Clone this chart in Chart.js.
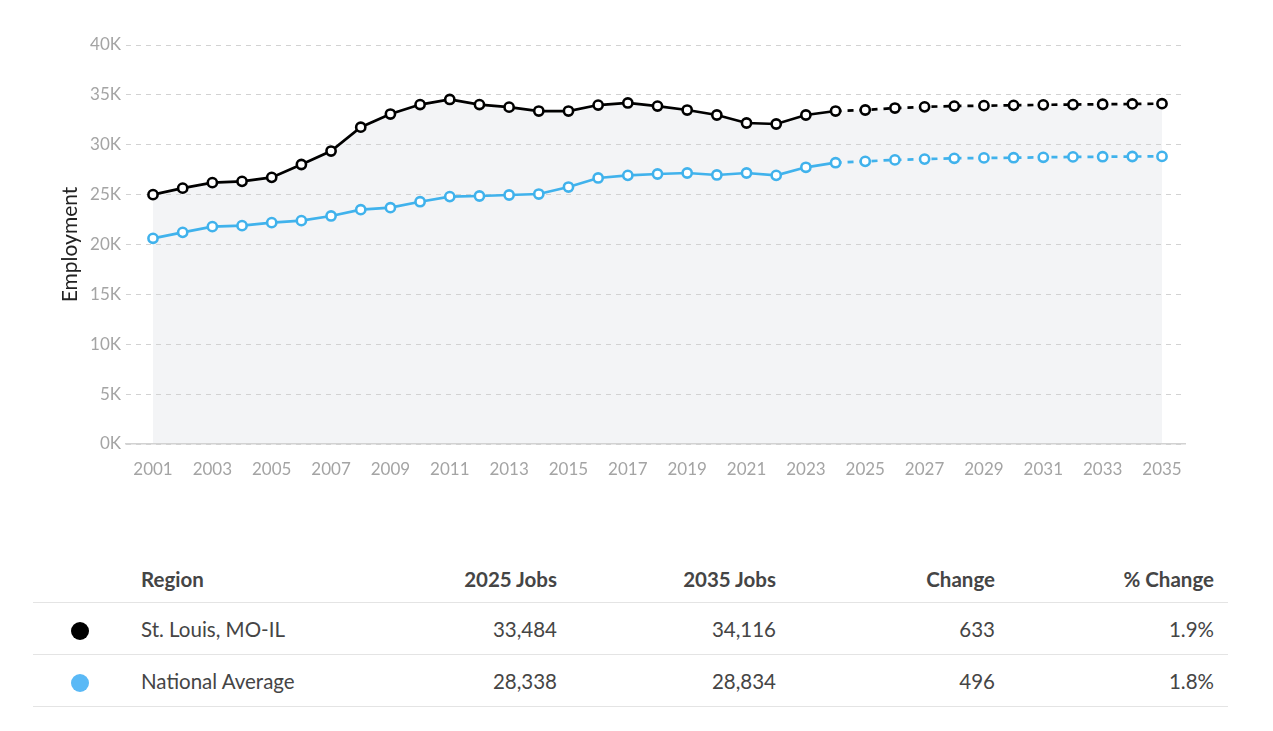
<!DOCTYPE html>
<html>
<head>
<meta charset="utf-8">
<script src="https://cdn.jsdelivr.net/npm/chart.js@4"></script>
<style>
  html, body { margin:0; padding:0; background:#fff; width:1273px; height:731px; overflow:hidden; font-family:Lato, "Open Sans", sans-serif; }
  #wrap { position:absolute; left:0; top:0; width:1273px; height:500px; }
  table { position:absolute; left:33px; top:555px; width:1195px; border-collapse:collapse; table-layout:fixed; font-family:Lato, sans-serif; font-size:20.5px; color:#454545; }
  th, td { padding:0; white-space:nowrap; }
  th { font-weight:700; font-size:20.5px; height:47px; border-bottom:1.5px solid #e4e4e4; vertical-align:middle; }
  td { height:51px; border-bottom:1.5px solid #e4e4e4; vertical-align:middle; }
  .num { text-align:right; padding-right:14px; }
  .reg { text-align:left; padding-left:20px; }
  .dotc { padding-left:38px; }
  .dot { display:inline-block; width:18px; height:18px; border-radius:50%; vertical-align:middle; }
</style>
</head>
<body>
<div id="wrap"><canvas id="c"></canvas></div>
<table id="tbl">
  <colgroup><col style="width:88px"><col style="width:231px"><col style="width:219px"><col style="width:219px"><col style="width:219px"><col style="width:219px"></colgroup>
  <thead><tr id="hdr"></tr></thead>
  <tbody id="body"></tbody>
</table>
<script>
// ---- data ----
const years = [2001,2002,2003,2004,2005,2006,2007,2008,2009,2010,2011,2012,2013,2014,2015,2016,2017,2018,2019,2020,2021,2022,2023,2024,2025,2026,2027,2028,2029,2030,2031,2032,2033,2034,2035];
const stLouis = [25000,25650,26200,26330,26730,28020,29370,31760,33080,34030,34540,34030,33770,33380,33380,33980,34190,33880,33480,32980,32180,32080,32980,33380,33484,33680,33800,33880,33920,33950,34000,34030,34060,34090,34116];
const national = [20620,21220,21790,21890,22190,22390,22860,23490,23690,24290,24800,24860,24960,25060,25760,26670,26930,27070,27170,26970,27170,26930,27740,28200,28338,28480,28560,28640,28680,28700,28740,28780,28800,28820,28834];
const forecastFrom = 2024;
const xTickYears = [2001,2003,2005,2007,2009,2011,2013,2015,2017,2019,2021,2023,2025,2027,2029,2031,2033,2035];
const yTicks = [0,5000,10000,15000,20000,25000,30000,35000,40000];

const tableHeaders = ["", "Region", "2025 Jobs", "2035 Jobs", "Change", "% Change"];
const regions = ["St. Louis, MO-IL", "National Average"];
const jobs2025 = ["33,484", "28,338"];
const jobs2035 = ["34,116", "28,834"];
const changes = ["633", "496"];
const pctChanges = ["1.9%", "1.8%"];

// ---- styles ----
const seriesColors = ["#000000", "#40b2ec"];
const dotColors = ["#000000", "#5ab9f6"];

// ---- table ----
const hdr = document.getElementById('hdr');
tableHeaders.forEach((h, i) => {
  const th = document.createElement('th');
  th.textContent = h;
  th.className = i === 0 ? 'dotc' : (i === 1 ? 'reg' : 'num');
  hdr.appendChild(th);
});
const body = document.getElementById('body');
regions.forEach((r, i) => {
  const tr = document.createElement('tr');
  const cells = [null, r, jobs2025[i], jobs2035[i], changes[i], pctChanges[i]];
  cells.forEach((v, j) => {
    const td = document.createElement('td');
    if (j === 0) {
      td.className = 'dotc';
      const s = document.createElement('span');
      s.className = 'dot';
      s.style.background = dotColors[i];
      td.appendChild(s);
    } else {
      td.className = j === 1 ? 'reg' : 'num';
      td.textContent = v;
    }
    tr.appendChild(td);
  });
  body.appendChild(tr);
});

// ---- chart ----
function points(values) { return years.map((y, i) => ({ x: y, y: values[i] })); }
function makeDataset(label, values, color) {
  return {
    label: label,
    data: points(values),
    borderColor: color,
    borderWidth: 2.7,
    pointRadius: 4.6,
    pointBorderWidth: 2.6,
    pointBackgroundColor: '#ffffff',
    pointBorderColor: color,
    tension: 0,
    fill: false,
    segment: {
      borderDash: c => years[c.p0DataIndex] >= forecastFrom ? [6, 6] : undefined
    }
  };
}

new Chart(document.getElementById('c'), {
  type: 'line',
  data: {
    datasets: [
      makeDataset(regions[0], stLouis, seriesColors[0]),
      makeDataset(regions[1], national, seriesColors[1]),
      {
        label: 'area',
        data: points(stLouis),
        borderWidth: 0,
        borderColor: 'rgba(0,0,0,0)',
        pointRadius: 0,
        tension: 0,
        fill: 'origin',
        backgroundColor: '#f3f4f6'
      }
    ]
  },
  options: {
    responsive: true,
    maintainAspectRatio: false,
    animation: false,
    layout: { padding: { left: 56, right: 88, top: 45, bottom: 16 } },
    plugins: {
      legend: { display: false },
      tooltip: { enabled: false },
      filler: { drawTime: 'beforeDraw' }
    },
    scales: {
      x: {
        type: 'linear',
        min: 2000.09,
        max: 2035.775,
        grid: { display: false },
        border: { display: true, color: '#d2d2d2', width: 1.5 },
        ticks: {
          color: '#a4a4a4',
          font: { family: 'Lato', size: 17 },
          padding: 7,
          maxRotation: 0,
          autoSkip: false,
          callback: v => String(v)
        },
        afterBuildTicks: s => { s.ticks = xTickYears.map(v => ({ value: v })); },
        afterFit: s => { s.height = 40; }
      },
      y: {
        min: 0,
        max: 40000,
        afterBuildTicks: s => { s.ticks = yTicks.map(v => ({ value: v })); },
        ticks: {
          color: '#a4a4a4',
          font: { family: 'Lato', size: 17 },
          padding: 5,
          callback: v => (v / 1000) + 'K'
        },
        grid: { color: '#d2d2d2', drawTicks: false, lineWidth: 1 },
        border: { display: false, dash: [5, 5] },
        title: {
          display: true,
          text: 'Employment',
          color: '#222222',
          font: { family: 'Lato', size: 21 },
          padding: { top: 2, bottom: 0 }
        },
        afterFit: s => { s.width = 70; }
      }
    }
  }
});
</script>
</body>
</html>
